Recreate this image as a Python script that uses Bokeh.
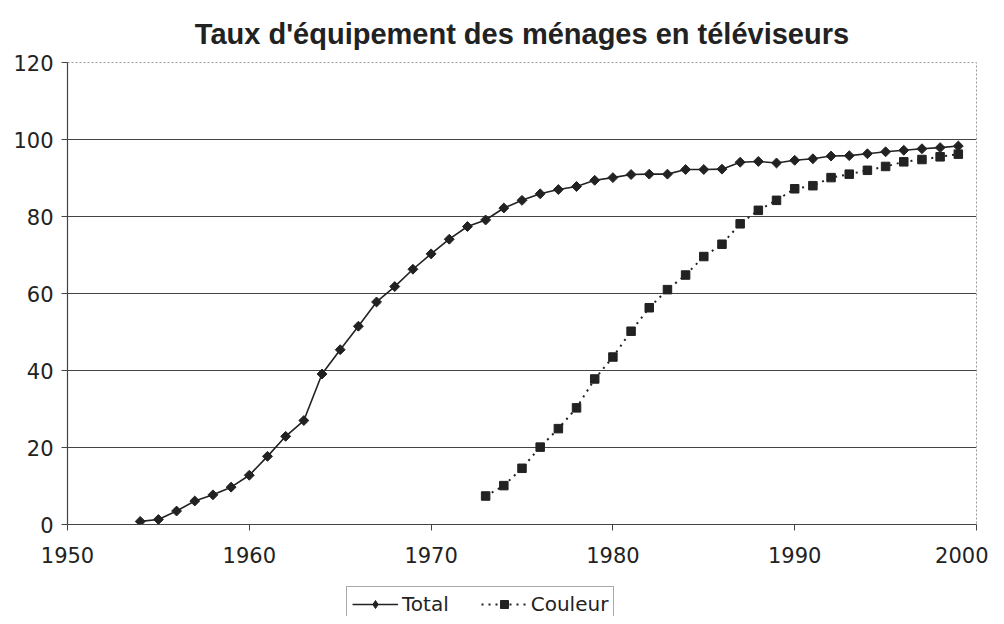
import math
from bokeh.plotting import figure
from bokeh.models import ColumnDataSource, Legend, LegendItem, FixedTicker, Range1d
from bokeh.layouts import column
from bokeh.embed import file_html
from bokeh.resources import INLINE

years_total = list(range(1954, 2000))
total = [0.8, 1.3, 3.5, 6.1, 7.7, 9.7, 12.8, 17.7, 22.9, 27.0,
         39.1, 45.4, 51.5, 57.8, 61.8, 66.3, 70.3, 74.1, 77.4, 79.1,
         82.2, 84.2, 85.9, 87.0, 87.8, 89.4, 90.1, 90.9, 91.0, 91.0,
         92.2, 92.2, 92.3, 94.1, 94.3, 93.9, 94.6, 95.0, 95.7, 95.8,
         96.3, 96.8, 97.2, 97.6, 97.9, 98.3]

years_couleur = list(range(1973, 2000))
couleur = [7.4, 10.1, 14.6, 20.1, 24.9, 30.3, 37.8, 43.5, 50.2, 56.3,
           61.0, 64.8, 69.6, 72.8, 78.1, 81.6, 84.2, 87.2, 88.0, 90.1,
           91.0, 92.0, 93.0, 94.2, 94.8, 95.5, 96.2]

x_ticks = [1950, 1960, 1970, 1980, 1990, 2000]
y_ticks = [0, 20, 40, 60, 80, 100, 120]
series_names = ["Total", "Couleur"]

title = "Taux d'équipement des ménages en téléviseurs"
TFONT = "Liberation Sans"
FONT = "DejaVu Sans"
INK = "#222222"

p = figure(width=988, height=580, output_backend="svg", toolbar_location=None,
           x_range=Range1d(1950, 2000), y_range=Range1d(0, 120),
           min_border_left=67, min_border_right=12, min_border_top=62,
           min_border_bottom=56)

p.title.text = title
p.title.text_font = TFONT
p.title.text_font_size = "29px"
p.title.text_font_style = "bold"
p.title.text_color = INK
p.title.align = "center"
p.title.standoff = 26

p.background_fill_color = "white"
p.border_fill_color = "white"
p.outline_line_color = "#999999"
p.outline_line_dash = "2 2"
p.outline_line_width = 1

for ax in (p.xaxis[0], p.yaxis[0]):
    ax.axis_line_color = "#444444"
    ax.axis_line_width = 1.2
    ax.major_tick_line_color = "#444444"
    ax.major_tick_out = 6
    ax.major_tick_in = 0
    ax.minor_tick_line_color = None
    ax.major_label_text_font = FONT
    ax.major_label_text_font_size = "21px"
    ax.major_label_text_color = INK

p.xaxis.ticker = FixedTicker(ticks=x_ticks)
p.yaxis.ticker = FixedTicker(ticks=y_ticks)
p.xaxis.major_label_standoff = 16
p.yaxis.major_label_standoff = 8

p.xgrid.grid_line_color = None
p.ygrid.ticker = FixedTicker(ticks=y_ticks[1:-1])
p.ygrid.grid_line_color = "#444444"
p.ygrid.grid_line_width = 1

src_t = ColumnDataSource(dict(x=years_total, y=total))
src_c = ColumnDataSource(dict(x=years_couleur, y=couleur))


def draw(fig, for_legend=False):
    lt = fig.line("x", "y", source=src_t, line_color=INK, line_width=1.6)
    if for_legend:
        mt = fig.scatter("x", "y", source=src_t, marker="diamond", size=11,
                         fill_color=INK, line_color=INK)
    else:
        mt = fig.scatter("x", "y", source=src_t, marker="square", size=7,
                         angle=math.pi / 4, fill_color=INK, line_color=INK)
    lc = fig.line("x", "y", source=src_c, line_color=INK, line_width=2,
                  line_dash="2 5")
    mc = fig.scatter("x", "y", source=src_c, marker="square", size=8.5,
                     fill_color=INK, line_color=INK)
    return (lt, mt), (lc, mc)


draw(p)

# legend strip below the chart (same series, its view range shows no data)
q = figure(width=988, height=36, output_backend="svg", toolbar_location=None,
           x_range=Range1d(0, 1), y_range=Range1d(0, 1),
           x_axis_type=None, y_axis_type=None,
           min_border_left=0, min_border_right=0, min_border_top=0,
           min_border_bottom=0)
q.outline_line_color = None
q.grid.grid_line_color = None
q.background_fill_color = "white"
q.border_fill_color = "white"
rt, rc = draw(q, for_legend=True)

legend = Legend(items=[LegendItem(label=series_names[0], renderers=list(rt)),
                       LegendItem(label=series_names[1], renderers=list(rc))],
                orientation="horizontal", location=(279, -6))
legend.label_text_font = FONT
legend.label_text_font_size = "20px"
legend.label_text_color = INK
legend.glyph_width = 46
legend.label_standoff = 4
legend.spacing = 32
legend.padding = 5
legend.margin = 0
legend.border_line_color = "#555555"
legend.border_line_width = 1
legend.background_fill_color = "white"
q.add_layout(legend, "center")

layout = column(p, q, spacing=0)
open("out.html", "w").write(file_html(layout, INLINE))
